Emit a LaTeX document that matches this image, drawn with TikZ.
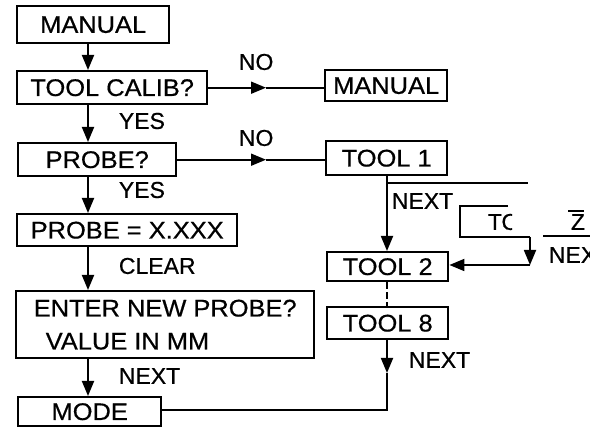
\documentclass[tikz,border=0pt]{standalone}
\usepackage{fontspec}
\setmainfont{Liberation Sans}[FakeStretch=1.06,FakeBold=0.6]
\newfontfamily\lblfont{Liberation Sans}[FakeBold=0.6]
\usetikzlibrary{arrows.meta}
\begin{document}
\begin{tikzpicture}[x=1pt,y=-1pt,line width=1.8pt,
  box/.style={draw,line width=2.4pt,inner sep=0pt,anchor=north west,font=\fontsize{24}{33}\selectfont},
  lbl/.style={inner sep=0pt,anchor=west,font=\lblfont\fontsize{23}{27}\selectfont},
  arr/.style={-{Triangle[length=15pt,width=12pt]}}]
\useasboundingbox (0,0) rectangle (590,427);
\fill[white] (0,0) rectangle (590,427);
% left column
\node[box,minimum width=152,minimum height=37] (man) at (16,5) {MANUAL};
\node[box,minimum width=190,minimum height=33] (tc) at (16,70) {TOOL CALIB?};
\node[box,minimum width=158,minimum height=33] (probe) at (17,142) {PROBE?};
\node[box,minimum width=220,minimum height=32] (pval) at (16,213) {PROBE = X.XXX};
\node[box,minimum width=298,minimum height=67,align=left] (enter) at (15,290) {ENTER NEW PROBE?\\\hspace{12pt}VALUE IN MM};
\node[box,minimum width=143,minimum height=29] (mode) at (17,396) {MODE};
% right column
\node[box,minimum width=122,minimum height=31] (man2) at (324,69) {MANUAL};
\node[box,minimum width=121,minimum height=34] (t1) at (325,140) {TOOL 1};
\node[box,minimum width=121,minimum height=29] (t2) at (326,251) {TOOL 2};
\node[box,minimum width=121,minimum height=32] (t8) at (326,306) {TOOL 8};
% labels
\node[lbl] (no1) at (238,62) {NO};
\node[lbl] (yes1) at (118,121) {YES};
\node[lbl] (no2) at (238,138) {NO};
\node[lbl] (yes2) at (118,190) {YES};
\node[lbl] (clr) at (118,266) {CLEAR};
\node[lbl] (nx1) at (118,376) {NEXT};
\node[lbl] (nx2) at (391,201) {NEXT};
\node[lbl] (nx3) at (408,360) {NEXT};
% coordinates
\coordinate (lx) at (88,0);
\coordinate (rx) at (387,0);
\coordinate (m1) at (266,0);
\coordinate (h1) at (528,183);
\coordinate (mk) at (387,373);
\coordinate (cr) at (387,410);
% left connectors
\draw[arr] (man.south -| lx) -- (tc.north -| lx);
\draw[arr] (tc.south -| lx) -- (probe.north -| lx);
\draw[arr] (probe.south -| lx) -- (pval.north -| lx);
\draw[arr] (pval.south -| lx) -- (enter.north -| lx);
\draw[arr] (enter.south -| lx) -- (mode.north -| lx);
% NO branches
\draw[arr] (tc.east) -- (tc.east -| m1);
\draw (tc.east -| m1) -- (tc.east -| man2.west);
\draw[arr] (probe.east) -- (probe.east -| m1);
\draw (probe.east -| m1) -- (probe.east -| t1.west);
% right connectors
\draw[arr] (t1.south -| rx) -- (t2.north -| rx);
\draw[line width=1.5pt] (h1 -| rx) -- (h1);
\draw[dashed,dash pattern=on 7pt off 3pt] (t2.south -| rx) -- (t8.north -| rx);
\draw[arr] (t8.south -| rx) -- (mk);
\draw (mk) -- (cr) -- (cr -| mode.east);
% partial fragment at right edge
\coordinate (c2) at (530,265);
\draw (508,206) -- (460,206) -- (460,237) -- (530,237);
\draw[arr] (530,237) -- (c2);
\draw[arr] (c2) -- (c2 -| t2.east);
\begin{scope}
\clip (480,200) rectangle (512,240);
\node[lbl] (to) at (487,222) {TO};
\end{scope}
\node[lbl] (zz) at (570,222) {Z};
\draw (568,211) -- (584,211);
\draw (543,236) -- (590,236);
\begin{scope}
\clip (540,240) rectangle (590,270);
\node[lbl] (ne) at (548,255) {NEXT};
\end{scope}
\end{tikzpicture}
\end{document}
